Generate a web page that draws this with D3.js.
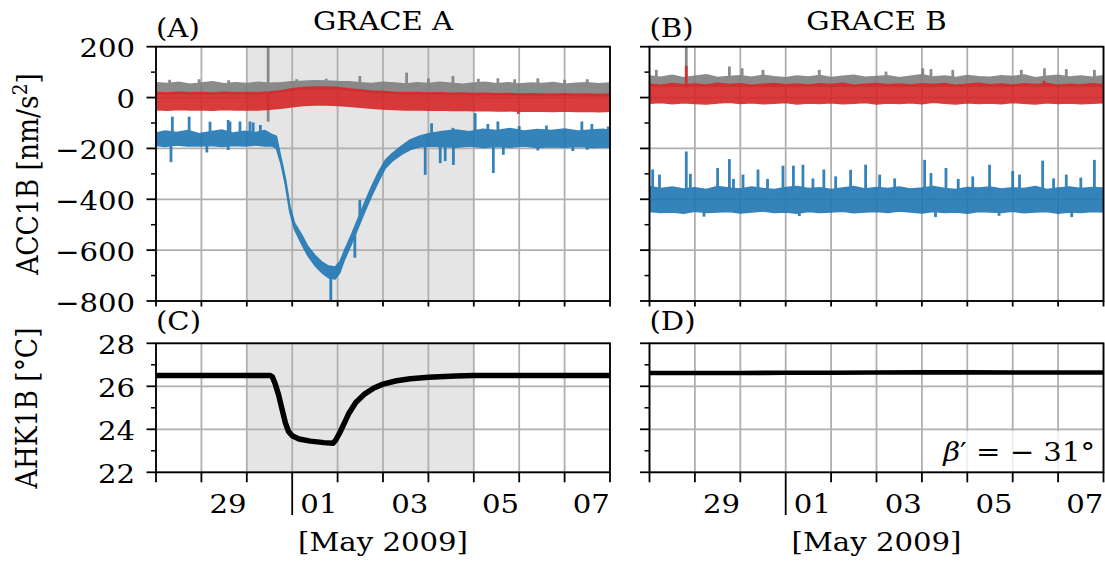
<!DOCTYPE html>
<html><head><meta charset="utf-8">
<script src="https://cdn.jsdelivr.net/npm/d3@7"></script>
<style>body{margin:0;background:#fff}svg{display:block}text{font-family:"DejaVu Serif",serif;fill:#000}</style>
</head><body><svg id="c" width="1105" height="563"></svg>
<script>
// ---------- axis / tick data ----------
const dayTicks = [0,1,2,3,4,5,6,7,8,9,10];          // days since 28 Apr 2009 00:00
const labelDays = [1,3,5,7,9];
const labelText = ["29","01","03","05","07"];
const monthStartDay = 3;                              // 1 May 2009
const eclipseShade = [2,7];                           // shaded interval (GRACE A)
const accTicks = [200,0,-200,-400,-600,-800];
const accMinor = [100,-100,-300,-500,-700];
const ahkTicks = [28,26,24,22];
const ahkMinor = [27,25,23];
const titles = ["GRACE A","GRACE B"];
const panelLetters = [["(A)","(B)"],["(C)","(D)"]];

// uniform sampling grid (days)
const tGrid = [0,0.25,0.5,0.75,1,1.25,1.5,1.75,2,2.25,2.5,2.75,3,3.25,3.5,3.75,4,4.25,4.5,4.75,5,5.25,5.5,5.75,6,6.25,6.5,6.75,7,7.25,7.5,7.75,8,8.25,8.5,8.75,9,9.25,9.5,9.75,10];

// ---------- GRACE A ACC1B (envelopes, nm/s^2) ----------
const grayAHi = [58,55,60,52,57,62,54,58,55,60,56,58,62,64,66,65,63,62,58,55,60,57,53,58,55,60,56,52,57,60,54,58,53,57,55,59,52,56,58,54,57];
const grayALo = [15,14,16,14,15,14,16,14,15,14,17,22,29,34,36,36,34,29,25,21,19,16,14,15,13,14,12,13,11,12,10,11,9,10,9,8,10,8,9,7,9];
const redAHi = [20,18,21,19,20,18,21,19,20,19,22,27,34,39,41,41,39,34,30,26,24,21,19,20,18,19,17,18,16,17,15,16,14,15,14,13,15,13,14,12,14];
const redALo = [-48,-50,-47,-49,-48,-50,-47,-49,-48,-49,-46,-42,-36,-31,-29,-29,-31,-34,-38,-42,-45,-47,-49,-48,-50,-49,-51,-50,-52,-51,-53,-52,-54,-53,-54,-55,-53,-55,-54,-56,-54];
const blueAT  = [0,0.2,0.45,0.7,0.95,1.2,1.45,1.7,1.95,2.2,2.4,2.55,2.65,2.75,2.85,2.95,3.05,3.2,3.35,3.5,3.65,3.8,3.95,4.05,4.15,4.3,4.45,4.6,4.75,4.9,5.05,5.2,5.4,5.6,5.8,6.0,6.3,6.6,6.9,7.2,7.5,7.8,8.1,8.4,8.7,9.0,9.3,9.6,9.85,10];
const blueAHi = [-140,-132,-138,-130,-142,-135,-128,-140,-133,-138,-130,-145,-152,-235,-318,-428,-493,-537,-587,-620,-646,-663,-666,-646,-602,-542,-477,-412,-350,-294,-247,-220,-192,-167,-152,-142,-134,-128,-135,-125,-130,-122,-132,-126,-130,-124,-132,-128,-125,-130];
const blueALo = [-188,-192,-186,-190,-190,-188,-192,-188,-190,-186,-190,-190,-198,-258,-342,-452,-517,-573,-623,-660,-688,-708,-713,-688,-638,-578,-513,-448,-386,-330,-278,-250,-224,-204,-194,-190,-192,-195,-190,-196,-192,-195,-190,-196,-193,-195,-192,-196,-194,-195];
// spikes: [day, value] or [day, from, to]
const grayASpikes = [[0.3,70],[0.95,72],[1.6,68],[2.47,-95,215],[3.1,72],[3.75,74],[4.49,85],[5.52,98],[6.0,75],[6.54,85],[7.1,74],[7.53,76],[7.9,72],[8.41,76],[9.0,70],[9.5,72]];
const redASpikes = [[7.98,-64]];
const blueASpikes = [[0.33,-254],[0.36,-75],[0.73,-75],[1.12,-216],[1.19,-95],[1.59,-88],[1.59,-206],[1.63,-95],[1.85,-94],[2.07,-94],[2.14,-98],[2.3,-108],[3.85,-820],[4.38,-630],[4.49,-403],[5.93,-304],[6.07,-101],[6.26,-258],[6.37,-250],[6.54,-119],[6.55,-265],[7.03,-61],[7.31,-104],[7.43,-297],[7.53,-94],[7.65,-225],[8.0,-112],[8.41,-208],[8.6,-110],[9.18,-210],[9.38,-94],[9.5,-205],[9.6,-104],[9.96,-114]];

// ---------- GRACE B ACC1B ----------
const grayBHi = [85,80,88,78,84,90,79,83,86,80,88,82,78,85,81,87,79,84,88,80,83,86,78,84,90,81,85,79,87,82,80,86,83,89,78,84,88,81,85,80,86];
const grayBLo = [45,44,46,45,44,46,45,44,46,45,44,46,45,44,46,45,44,46,45,44,46,45,44,46,45,44,46,45,44,46,45,44,46,45,44,46,45,44,46,45,44];
const redBHi = [52,48,55,50,53,49,56,51,54,48,52,55,50,53,49,54,51,56,48,52,55,50,53,49,54,51,55,48,52,56,50,53,49,54,51,55,48,52,50,54,51];
const redBLo = [-22,-19,-24,-20,-23,-25,-21,-18,-23,-20,-24,-22,-19,-25,-21,-23,-20,-24,-22,-19,-25,-21,-23,-20,-24,-18,-22,-25,-20,-23,-21,-24,-19,-22,-25,-20,-23,-21,-24,-22,-20];
const blueBHi = [-350,-358,-352,-360,-355,-362,-350,-356,-360,-352,-358,-362,-354,-350,-358,-355,-362,-356,-350,-360,-354,-358,-352,-360,-356,-350,-358,-362,-354,-356,-352,-360,-355,-358,-350,-362,-356,-352,-358,-354,-356];
const blueBLo = [-448,-452,-450,-455,-447,-452,-450,-448,-454,-450,-446,-452,-450,-455,-448,-452,-450,-447,-453,-450,-448,-452,-446,-450,-454,-448,-452,-450,-455,-448,-450,-452,-447,-453,-450,-448,-455,-450,-452,-448,-450];
const grayBSpikes = [[0.15,109],[0.81,40,215],[1.76,122],[2.04,115],[2.5,109],[3.74,109],[5.21,102],[6.02,115],[6.2,112],[6.68,109],[8.19,109],[8.7,115],[9.18,112],[9.8,109]];
const redBSpikes = [[0.81,125],[8.69,66]];
const blueBSpikes = [[0.07,-283],[0.22,-303],[0.81,-212],[0.9,-300],[1.2,-468],[1.5,-277],[1.76,-242],[1.85,-320],[2.06,-303],[2.39,-283],[2.6,-320],[2.94,-268],[3.17,-268],[3.3,-466],[3.38,-264],[3.6,-318],[3.84,-283],[4.1,-310],[4.43,-284],[4.76,-264],[5.07,-303],[5.4,-318],[6.06,-245],[6.2,-297],[6.3,-470],[6.53,-277],[6.8,-320],[7.12,-310],[7.49,-264],[7.7,-465],[8.0,-289],[8.15,-303],[8.66,-248],[8.9,-318],[9.18,-303],[9.3,-470],[9.5,-315],[9.8,-245]];

// ---------- AHK1B temperatures (deg C) ----------
const ahkAT = [0,1,2,2.51,2.56,2.62,2.7,2.78,2.85,2.92,3.0,3.15,3.4,3.7,3.9,3.96,4.05,4.15,4.25,4.4,4.6,4.8,5.0,5.3,5.6,6.0,6.6,7,8,9,10];
const ahkAV = [26.5,26.5,26.5,26.5,26.45,26.15,25.6,24.9,24.3,23.9,23.7,23.55,23.45,23.38,23.35,23.5,23.85,24.3,24.75,25.25,25.65,25.92,26.1,26.26,26.35,26.42,26.48,26.5,26.5,26.5,26.5];
const ahkBT = [0,1,2,3,4,5,6,7,8,9,10];
const ahkBV = [26.62,26.62,26.62,26.63,26.63,26.64,26.65,26.65,26.64,26.64,26.64];
const betaText = "−31°";

// ---------- layout ----------
const W = 454, colX = [156, 649.5], rowTop = [46.7, 343.3], rowBot = [301, 472.3];
const FS = 26.5, SX = 1.1;
const C = {blue:"#1f77b4", red:"#d62728", gray:"#7f7f7f", grid:"#b0b0b0", shade:"#e5e5e5"};
const svg = d3.select("#c");

function txt(g, x, y, s, anchor, rot) {
  const t = g.append("text").attr("font-size", FS).attr("text-anchor", anchor || "start")
    .attr("transform", rot ? `translate(${x},${y}) rotate(-90) scale(1,${SX})` : `translate(${x},${y}) scale(${SX},1)`);
  if (s !== null) t.text(s);
  return t;
}
function interp(ts, vs, t) {
  const i = Math.max(1, d3.bisectLeft(ts, t));
  const a = ts[i-1], b = ts[i]; const f = (t - a) / (b - a);
  return vs[i-1] + (vs[i] - vs[i-1]) * f;
}
function series(g, x, y, ts, hi, lo, spikes, color) {
  const s = g.append("g").attr("opacity", 0.9);
  const pts = ts.map((d,i)=>({t:d, hi:hi[i], lo:lo[i]}));
  s.append("path").datum(pts)
    .attr("d", d3.area().x(d=>x(d.t)).y0(d=>y(d.lo)).y1(d=>y(d.hi)))
    .attr("fill", color).attr("stroke", color).attr("stroke-width", 1.6).attr("stroke-linejoin","round");
  spikes.forEach(sp => {
    const mid = (interp(ts, hi, sp[0]) + interp(ts, lo, sp[0])) / 2;
    const a = sp.length === 3 ? sp[1] : mid, b = sp.length === 3 ? sp[2] : sp[1];
    s.append("line").attr("x1", x(sp[0])).attr("x2", x(sp[0])).attr("y1", y(a)).attr("y2", y(b))
      .attr("stroke", color).attr("stroke-width", 2.8);
  });
}

function panel(col, row) {
  const x0 = colX[col], x1 = x0 + W, y0 = rowTop[row], y1 = rowBot[row];
  const x = d3.scaleLinear().domain([0,10]).range([x0,x1]);
  const y = row === 0 ? d3.scaleLinear().domain([-800,200]).range([y1,y0])
                      : d3.scaleLinear().domain([22,28]).range([y1,y0]);
  const g = svg.append("g");
  const id = `clip${col}${row}`;
  g.append("clipPath").attr("id", id).append("rect").attr("x", x0).attr("y", y0).attr("width", W).attr("height", y1-y0);
  if (col === 0) {
    g.append("rect").attr("x", x(eclipseShade[0])).attr("y", y0).attr("width", x(eclipseShade[1])-x(eclipseShade[0]))
      .attr("height", y1-y0).attr("fill", C.shade);
  }
  const major = row === 0 ? accTicks : ahkTicks;
  const minor = row === 0 ? accMinor : ahkMinor;
  // grid
  g.append("g").selectAll("line").data(dayTicks).join("line")
    .attr("x1", d=>x(d)).attr("x2", d=>x(d)).attr("y1", y0).attr("y2", y1)
    .attr("stroke", C.grid).attr("stroke-width", 1.8);
  g.append("g").selectAll("line").data(major).join("line")
    .attr("x1", x0).attr("x2", x1).attr("y1", d=>y(d)).attr("y2", d=>y(d))
    .attr("stroke", C.grid).attr("stroke-width", 1.8);
  // data
  const dg = g.append("g").attr("clip-path", `url(#${id})`);
  if (row === 0) {
    if (col === 0) {
      series(dg, x, y, tGrid, grayAHi, grayALo, grayASpikes, C.gray);
      series(dg, x, y, tGrid, redAHi, redALo, redASpikes, C.red);
      series(dg, x, y, blueAT, blueAHi, blueALo, blueASpikes, C.blue);
    } else {
      series(dg, x, y, tGrid, grayBHi, grayBLo, grayBSpikes, C.gray);
      series(dg, x, y, tGrid, redBHi, redBLo, redBSpikes, C.red);
      series(dg, x, y, tGrid, blueBHi, blueBLo, blueBSpikes, C.blue);
    }
  } else {
    const ts = col === 0 ? ahkAT : ahkBT, vs = col === 0 ? ahkAV : ahkBV;
    dg.append("path").datum(ts.map((d,i)=>[d, vs[i]]))
      .attr("d", d3.line().x(d=>x(d[0])).y(d=>y(d[1])))
      .attr("fill","none").attr("stroke","#000").attr("stroke-width", col === 0 ? 5.5 : 4.6).attr("stroke-linejoin","round");
  }
  // spines
  g.append("rect").attr("x", x0).attr("y", y0).attr("width", W).attr("height", y1-y0)
    .attr("fill","none").attr("stroke","#000").attr("stroke-width", 1.8);
  // y ticks
  g.append("g").selectAll("line").data(major).join("line")
    .attr("x1", x0-9.5).attr("x2", x0).attr("y1", d=>y(d)).attr("y2", d=>y(d)).attr("stroke","#000").attr("stroke-width",1.8);
  g.append("g").selectAll("line").data(minor).join("line")
    .attr("x1", x0-5).attr("x2", x0).attr("y1", d=>y(d)).attr("y2", d=>y(d)).attr("stroke","#000").attr("stroke-width",1.5);
  if (col === 0) {
    major.forEach(v => txt(g, x0-21, y(v)+10.5, (v < 0 ? "−" + Math.abs(v) : String(v)), "end"));
  }
  // x ticks
  const tl = row === 0 ? 5.5 : 10;
  g.append("g").selectAll("line").data(dayTicks).join("line")
    .attr("x1", d=>x(d)).attr("x2", d=>x(d)).attr("y1", y1)
    .attr("y2", d => (row === 1 && d === monthStartDay) ? 515 : y1 + tl)
    .attr("stroke","#000").attr("stroke-width",1.8);
  if (row === 1) {
    labelDays.forEach((d,i) => txt(g, x(d+0.5)+4, 513.3, labelText[i], "middle"));
    txt(g, (x0+x1)/2, 551, "[May 2009]", "middle");
  } else {
    txt(g, (x0+x1)/2, 29.5, titles[col], "middle");
  }
  txt(g, x0, row === 0 ? 37 : 329.5, panelLetters[row][col], "start");
  if (row === 1 && col === 1) {
    g.append("rect").attr("x", 932).attr("y", 431).attr("width", 170).attr("height", 40).attr("fill","#fff").attr("opacity",0.8);
    const t = txt(g, 1095, 461, null, "end");
    t.append("tspan").attr("font-style","italic").text("β");
    t.append("tspan").text("′ = " + betaText.replace("−","− "));
  }
}
panel(0,0); panel(1,0); panel(0,1); panel(1,1);

// y-axis labels
const yl = txt(svg, 38, 174, null, "middle", true);
yl.append("tspan").text("ACC1B [nm/s");
yl.append("tspan").attr("font-size", FS*0.7).attr("dy", -10).text("2");
yl.append("tspan").attr("dy", 10).text("]");
txt(svg, 37, 408, "AHK1B [°C]", "middle", true);
</script></body></html>
